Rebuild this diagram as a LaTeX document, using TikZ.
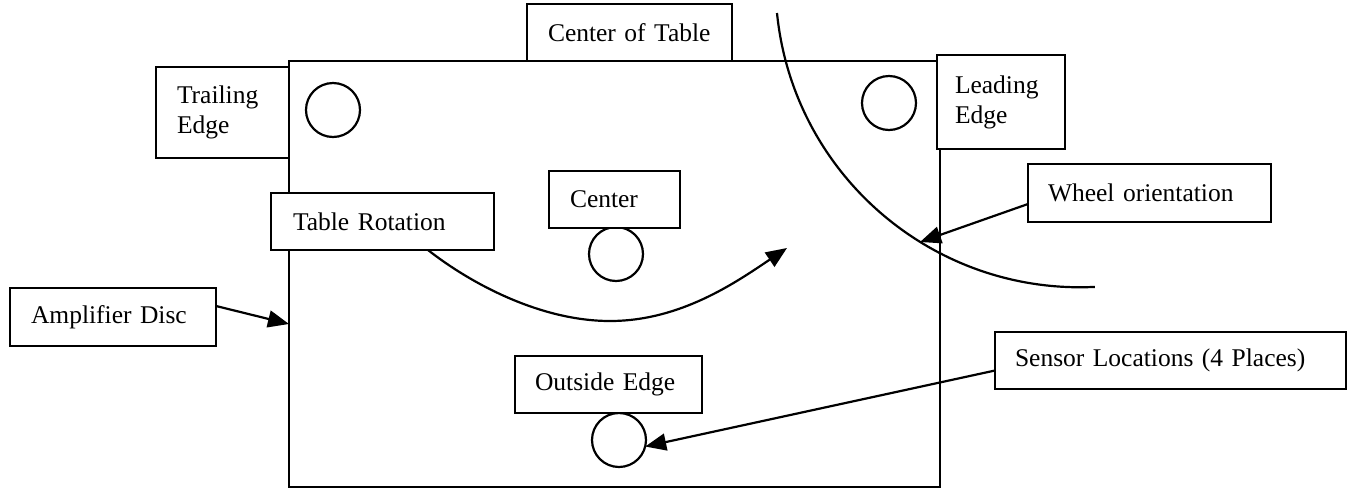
\documentclass[tikz,border=0pt]{standalone}
\usepackage{fontspec}
\setmainfont{Liberation Serif}
\usetikzlibrary{arrows.meta}
\begin{document}
\begin{tikzpicture}[x=1pt,y=-1pt,
  ink/.style={line width=2.2pt},
  labelbox/.style={draw, ink, fill=white, anchor=north west, align=left,
    inner ysep=0pt, outer sep=0pt, font=\fontsize{25.5}{30}\selectfont},
  sensorspot/.style={circle, draw, ink, minimum size=54pt, inner sep=0pt, outer sep=0pt},
  pointer/.style={ink, -{Triangle[length=21pt,width=17pt]}}]
\useasboundingbox (0,0) rectangle (1353,491);

% amplifier disc outline
\node[draw, ink, anchor=north west, minimum width=651pt, minimum height=426pt,
      inner sep=0pt, outer sep=0pt] (disc) at (289,61) {};

% wheel path over the disc
\draw[ink] (777,13) arc[start angle=174.3, end angle=87.2, radius=304.5];

% sensor positions
\node[sensorspot] (strail) at (333,110) {};
\node[sensorspot] (slead)  at (889,103) {};
\node[sensorspot] (scent)  at (616,254) {};
\node[sensorspot] (sout)   at (619,440) {};

% labels
\node[labelbox, minimum width=205pt, minimum height=57pt, text width=163pt, inner xsep=21pt]
  (cot) at (527,4) {Center of Table\\[2pt]};
\node[labelbox, minimum width=133pt, minimum height=91pt, text width=91pt, inner xsep=21pt]
  (trail) at (156,67) {Trailing\\Edge\\[8pt]};
\node[labelbox, minimum width=128pt, minimum height=94pt, text width=92pt, inner xsep=18pt]
  (lead) at (937,55) {Leading\\Edge\\[8pt]};
\node[labelbox, minimum width=243pt, minimum height=58pt, text width=203pt, inner xsep=20pt]
  (wheel) at (1028,164) {Wheel orientation};
\node[labelbox, minimum width=223pt, minimum height=57pt, text width=179pt, inner xsep=22pt]
  (trot) at (271,193) {Table Rotation\\[2pt]};
\node[labelbox, minimum width=131pt, minimum height=57pt, text width=89pt, inner xsep=21pt]
  (cent) at (549,171) {Center\\[2pt]};
\node[labelbox, minimum width=206pt, minimum height=58pt, text width=164pt, inner xsep=21pt]
  (amp) at (10,288) {Amplifier Disc};
\node[labelbox, minimum width=187pt, minimum height=57pt, text width=147pt, inner xsep=20pt]
  (oedge) at (515,356) {Outside Edge};
\node[labelbox, minimum width=351pt, minimum height=57pt, text width=311pt, inner xsep=20pt]
  (sens) at (995,332) {Sensor Locations (4 Places)\\[2pt]};

% arrow ends
\coordinate (rotTip)   at (787,248);
\coordinate (wheelTip) at (920,242);
\coordinate (ampTip)   at ([yshift=-50pt]disc.west);

% connectors
\draw[pointer] ([xshift=157pt]trot.south west)
  .. controls (470,283) and (540,321) .. (610,321)
  .. controls (680,321) and (735,283) .. (rotTip);
\draw[pointer] ([yshift=-11pt]wheel.west) -- (wheelTip);
\draw[pointer] ([yshift=11pt]amp.east) -- (ampTip);
\draw[pointer] ([yshift=-10pt]sens.west) -- (sout.-14);
\end{tikzpicture}
\end{document}
